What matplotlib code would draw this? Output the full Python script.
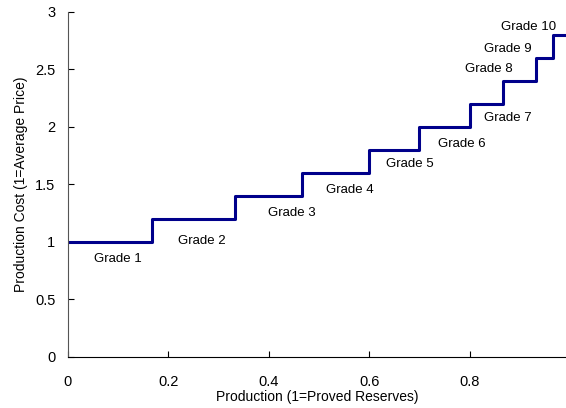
import matplotlib.pyplot as plt
import numpy as np

plt.rcParams['font.family'] = ['Liberation Sans', 'DejaVu Sans']

# cumulative production at the start of each grade, and the cost of that grade
grade_start = [0.0, 0.167, 0.333, 0.467, 0.6, 0.7, 0.8, 0.867, 0.933, 0.967]
grade_end = 1.0
grade_cost = [1.0, 1.2, 1.4, 1.6, 1.8, 2.0, 2.2, 2.4, 2.6, 2.8]
grade_names = [f"Grade {i}" for i in range(1, 11)]

# where each grade label sits (data coords)
label_x = [0.10, 0.267, 0.446, 0.562, 0.68, 0.785, 0.876, 0.839, 0.876, 0.918]
label_y = [0.85, 1.01, 1.25, 1.45, 1.68, 1.85, 2.08, 2.50, 2.68, 2.87]

fig = plt.figure(figsize=(5.66, 4.08), dpi=100)
ax = fig.add_axes([0.120, 0.125, 0.880, 0.846])

xs = grade_start + [grade_end]
ys = grade_cost + [grade_cost[-1]]
ax.step(xs, ys, where='post', color='#00008b', lw=2.2, clip_on=True)

for name, lx, ly in zip(grade_names, label_x, label_y):
    ax.text(lx, ly, name, ha='center', va='center', fontsize=9.5)

ax.set_xlim(0, 0.992)
ax.set_ylim(0, 3)
ax.set_xticks([0, 0.2, 0.4, 0.6, 0.8])
ax.set_xticklabels(['0', '0.2', '0.4', '0.6', '0.8'])
ax.set_yticks([0, 0.5, 1, 1.5, 2, 2.5, 3])
ax.set_yticklabels(['0', '0.5', '1', '1.5', '2', '2.5', '3'])
ax.tick_params(direction='in', length=4, labelsize=10.5)
ax.tick_params(axis='x', pad=13)
ax.tick_params(axis='y', pad=9)
ax.spines['top'].set_visible(False)
ax.spines['right'].set_visible(False)
ax.spines['left'].set_color('#555555')
ax.set_xlabel('Production (1=Proved Reserves)', fontsize=10, labelpad=1)
ax.set_ylabel('Production Cost (1=Average Price)', fontsize=10, labelpad=5)

fig.savefig('out.png', dpi=100)
